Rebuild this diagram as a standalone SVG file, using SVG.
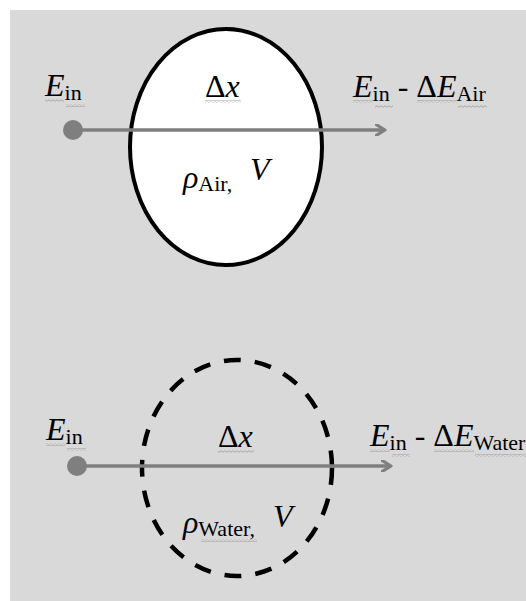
<svg xmlns="http://www.w3.org/2000/svg" width="526" height="601" viewBox="0 0 526 601">
<style>
text{font-family:"Liberation Serif","Times New Roman",serif;fill:#000}
.m{font-size:32px}
.i{font-style:italic}
.s{font-size:22px}
.conn{stroke:#7f7f7f;stroke-width:3.5;fill:none}
</style>
<defs>
<marker id="ah" markerWidth="12" markerHeight="12" refX="9" refY="6" orient="auto" markerUnits="userSpaceOnUse">
<path d="M1 0.5 L10 6 L1 11.5" fill="none" stroke="#7f7f7f" stroke-width="3.2" stroke-linecap="round" stroke-linejoin="round"/>
</marker>
<pattern id="wv" width="4" height="3" patternUnits="userSpaceOnUse">
<path d="M0 1.5 Q1 0 2 1.5 T4 1.5" stroke="#9a9a9a" fill="none" stroke-width="0.8"/>
</pattern>
</defs>
<rect x="10" y="10" width="516" height="591" fill="#d9d9d9"/>

<g id="sample-air">
<ellipse cx="226" cy="147" rx="96" ry="118" fill="#fff" stroke="#000" stroke-width="4"/>
<text class="m" x="205" y="97">Δ<tspan class="i">x</tspan></text>
<text class="m" x="183" y="188"><tspan class="i">ρ</tspan><tspan class="s" dy="3">Air</tspan><tspan class="s">,</tspan></text>
<text class="m i" x="250" y="180">V</text>
</g>

<g id="sample-water">
<ellipse cx="237" cy="468" rx="95" ry="108" fill="none" stroke="#000" stroke-width="4.5" stroke-dasharray="17 14"/>
<text class="m" x="218" y="447">Δ<tspan class="i">x</tspan></text>
<text class="m" x="183" y="533"><tspan class="i">ρ</tspan><tspan class="s" dy="3">Water</tspan><tspan class="s">,</tspan></text>
<text class="m i" x="273" y="527">V</text>
</g>

<g id="in-air">
<circle cx="73" cy="130" r="10" fill="#7f7f7f"/>
<text class="m" x="45" y="96"><tspan class="i">E</tspan><tspan class="s" dy="4">in</tspan></text>
</g>
<g id="out-air">
<text class="m" x="353" y="97"><tspan class="i">E</tspan><tspan class="s" dy="4">in</tspan><tspan dy="-4"> - Δ</tspan><tspan class="i">E</tspan><tspan class="s" dy="4">Air</tspan></text>
</g>
<g id="in-water">
<circle cx="77" cy="466" r="10" fill="#7f7f7f"/>
<text class="m" x="46" y="440"><tspan class="i">E</tspan><tspan class="s" dy="4">in</tspan></text>
</g>
<g id="out-water">
<text class="m" x="370" y="446"><tspan class="i">E</tspan><tspan class="s" dy="4">in</tspan><tspan dy="-4"> - Δ</tspan><tspan class="i">E</tspan><tspan class="s" dy="4">Water</tspan></text>
</g>

<g id="connectors">
<line class="conn" x1="73" y1="130" x2="384" y2="130" marker-end="url(#ah)"/>
<line class="conn" x1="77" y1="466" x2="390" y2="466" marker-end="url(#ah)"/>
</g>

<g id="squiggles" fill="url(#wv)">
<rect x="45" y="99" width="19" height="3"/>
<rect x="66" y="104" width="19" height="3"/>
<rect x="205" y="100" width="36" height="3"/>
<rect x="353" y="100" width="20" height="3"/>
<rect x="375" y="105" width="18" height="3"/>
<rect x="417" y="100" width="40" height="3"/>
<rect x="458" y="105" width="29" height="3"/>
<rect x="46" y="443" width="19" height="3"/>
<rect x="67" y="448" width="19" height="3"/>
<rect x="218" y="450" width="36" height="3"/>
<rect x="370" y="449" width="20" height="3"/>
<rect x="392" y="454" width="18" height="3"/>
<rect x="434" y="449" width="40" height="3"/>
<rect x="475" y="454" width="51" height="3"/>
<rect x="201" y="539" width="56" height="3"/>
</g>
</svg>
